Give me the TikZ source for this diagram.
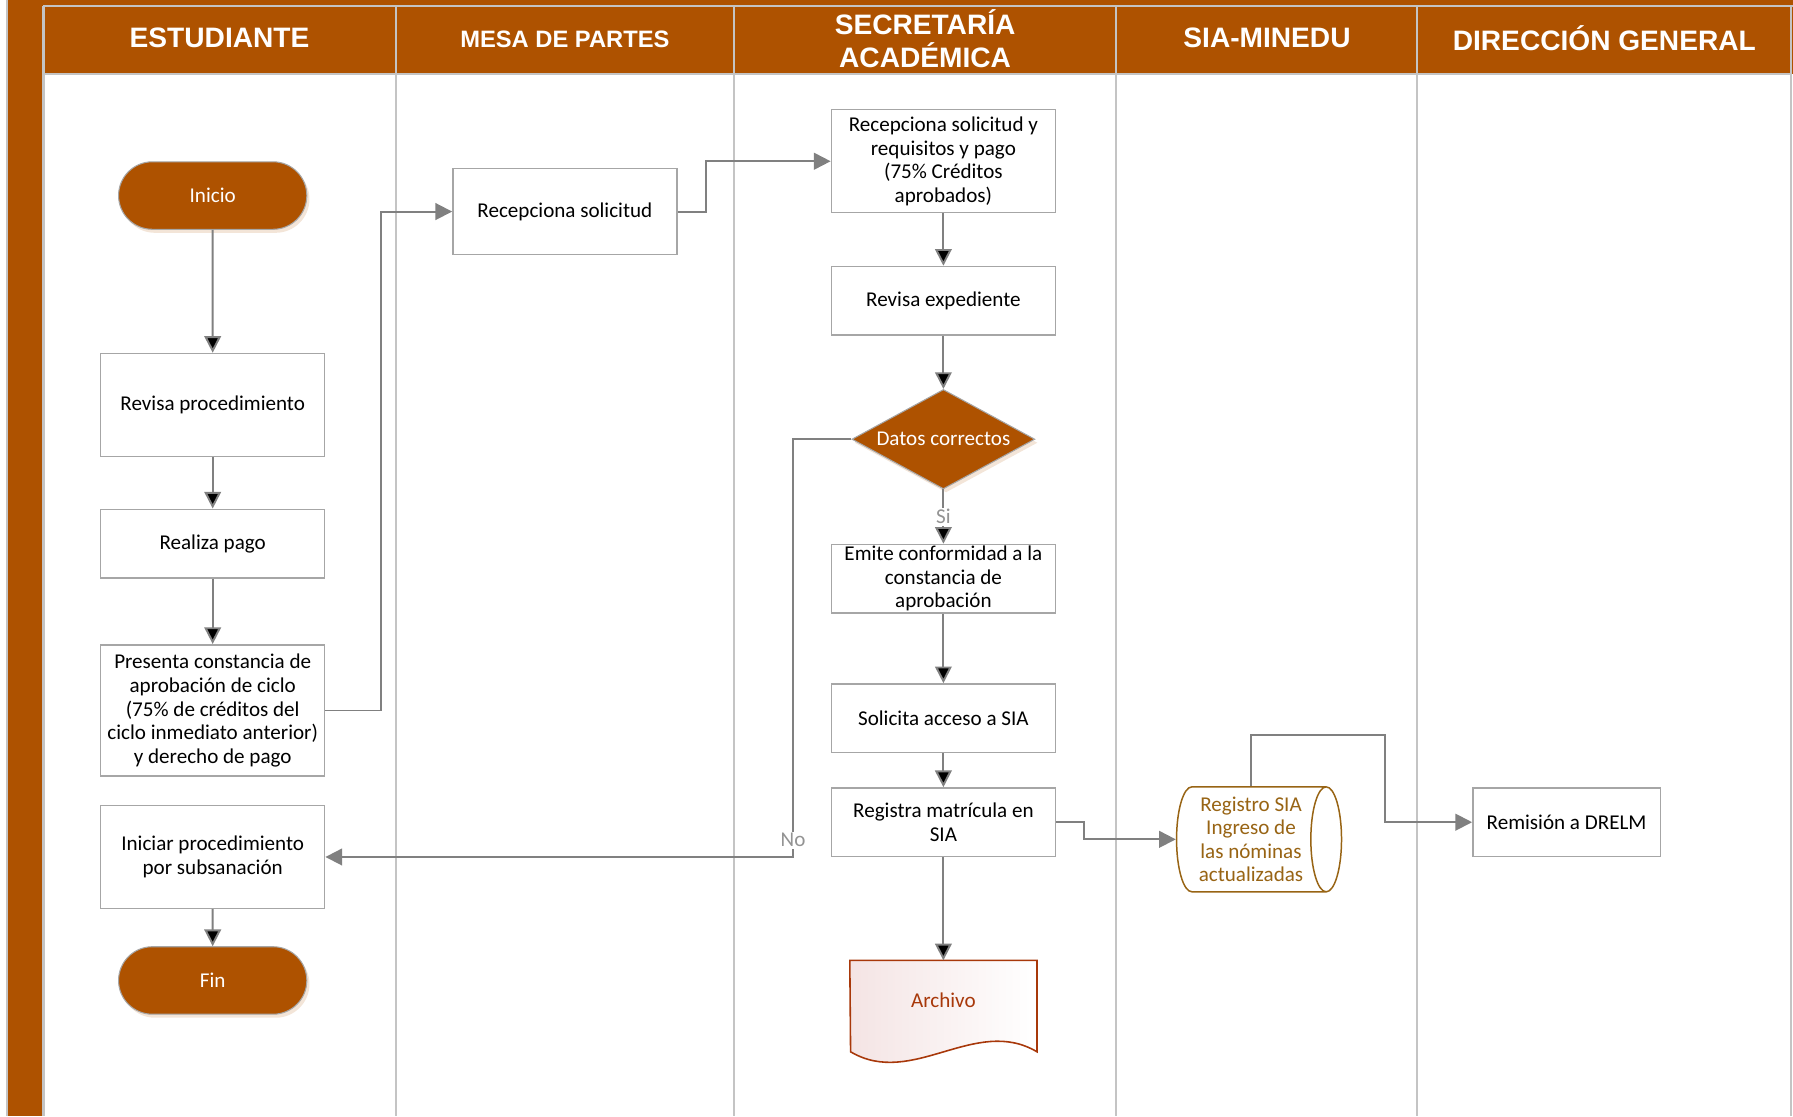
\documentclass[tikz,border=0pt]{standalone}
\usepackage{fontspec}
\setmainfont{Carlito}
\newfontfamily\headfont{Liberation Sans}
\usepackage{tikz}
\usetikzlibrary{positioning,arrows.meta,shapes.geometric,shapes.misc,shadows,backgrounds}

\definecolor{cafe}{RGB}{174,82,0}
\definecolor{linea}{RGB}{128,128,128}
\definecolor{borde}{RGB}{166,166,166}
\definecolor{carril}{RGB}{196,196,196}
\definecolor{dorado}{RGB}{152,100,20}
\definecolor{rojizo}{RGB}{168,56,10}
\definecolor{rosado}{RGB}{244,228,228}

\begin{document}
\begin{tikzpicture}[x=0.02287cm, y=-0.02287cm, on grid,
    font=\fontsize{12}{13.4}\selectfont,
    proc/.style={draw=borde, line width=0.85pt, fill=white, align=center,
        minimum width=4.48cm, minimum height=1.37cm, inner sep=1pt},
    term/.style={rounded rectangle, draw=borde, line width=0.6pt, fill=cafe, text=white,
        minimum width=4cm, minimum height=1.35cm,
        drop shadow={shadow xshift=1.5pt, shadow yshift=-2pt, fill=cafe!30, opacity=0.5}},
    decision/.style={diamond, draw=borde, line width=0.6pt, fill=cafe, text=white, aspect=1.8,
        minimum width=3.66cm, minimum height=1.99cm, inner sep=0pt,
        drop shadow={shadow xshift=1.5pt, shadow yshift=-2pt, fill=cafe!30, opacity=0.5}},
    store/.style={cylinder, shape aspect=0.36, draw=dorado, line width=0.85pt, fill=white,
        text=dorado, align=center, minimum width=2.1cm, minimum height=3.3cm, inner sep=0pt},
    docnode/.style={minimum width=3.73cm, minimum height=1.6cm, inner sep=0pt, text=rojizo},
    docline/.style={draw=rojizo, line width=0.9pt, left color=rosado, right color=white},
    flow/.style={draw=linea, line width=1.1pt, -{Triangle[length=9.5pt, width=9.5pt]}},
    lbl/.style={fill=white, text=linea!85, inner sep=1pt},
    lane/.style={draw=carril, line width=1.2pt},
    head/.style={text=white, align=center, font=\headfont\bfseries\fontsize{16}{18.8}\selectfont}]

    \useasboundingbox (0,0) rectangle (1568,976);

    \fill[cafe] (6,0) rectangle (1568,4);
    \fill[cafe] (6,0) rectangle (38,976);
    \fill[cafe] (38,6) rectangle (1568,65);
    \draw[lane] (6,0) -- (6,976) (38,5) -- (1568,5) (38,65) -- (1566,65);
    \draw[lane] (38,5) -- (38,976) (346,5) -- (346,976) (642,5) -- (642,976)
        (976,5) -- (976,976) (1239,5) -- (1239,976) (1566,5) -- (1566,976);

    \node[head] (hest) at (192,33) {ESTUDIANTE};
    \node[head, font=\headfont\bfseries\fontsize{13.5}{16}\selectfont] (hmesa) at (494,34) {MESA DE PARTES};
    \node[head] (hsec) at (809,34) {SECRETARÍA\\ ACADÉMICA};
    \node[head] (hsia) at (1108,33) {SIA-MINEDU};
    \node[head] (hdir) at (1403,33) {DIRECCIÓN GENERAL};

    \node[term] (inicio) at (186,171) {Inicio};
    \node[proc, minimum height=2.06cm] (revproc) [below=4.19cm of inicio] {Revisa procedimiento};
    \node[proc] (pago) [below=2.77cm of revproc] {Realiza pago};
    \node[proc, minimum height=2.63cm] (presenta) [below=3.34cm of pago] {Presenta constancia de\\ aprobación de ciclo\\ (75\% de créditos del\\ ciclo inmediato anterior)\\ y derecho de pago};
    \node[proc, minimum height=2.06cm] (subsana) [below=2.93cm of presenta] {Iniciar procedimiento\\ por subsanación};
    \node[term] (fin) [below=2.47cm of subsana] {Fin};

    \node[proc, minimum height=1.72cm] (recsol) at (494,185) {Recepciona solicitud};

    \node[proc, minimum height=2.06cm] (recreq) at (825,141) {Recepciona solicitud y\\ requisitos y pago\\ (75\% Créditos\\ aprobados)};
    \node[proc] (revexp) [below=2.79cm of recreq] {Revisa expediente};
    \node[decision] (datos) [below=2.77cm of revexp] {Datos correctos};
    \node[proc, inner sep=0pt] (emite) [below=2.79cm of datos] {Emite conformidad a la\\ constancia de\\ aprobación};
    \node[proc] (solicita) [below=2.79cm of emite] {Solicita acceso a SIA};
    \node[proc] (registra) [below=2.08cm of solicita] {Registra matrícula en\\ SIA};
    \node[docnode] (archivo) [below=3.57cm of registra] {Archivo};

    \node[store] (registro) at (1094,734) {Registro SIA\\ Ingreso de\\ las nóminas\\ actualizadas};
    \node[proc, minimum width=3.75cm] (remision) at (1370,719) {Remisión a DRELM};

    \begin{scope}[on background layer]
        \draw[docline] (archivo.north west) -- (archivo.north east) -- ++(0,80)
            .. controls +(-54,-32) and +(54,32) .. ++(-163,0) -- cycle;
    \end{scope}

    \path[flow]
        (inicio) edge (revproc)
        (revproc) edge (pago)
        (pago) edge (presenta)
        (subsana) edge (fin)
        (recreq) edge (revexp)
        (revexp) edge (datos)
        (datos) edge node[lbl] {Si} (emite)
        (emite) edge (solicita)
        (solicita) edge (registra)
        (registra) edge (archivo);

    \draw[flow] (presenta.east) -- ++(49,0) |- (recsol);
    \draw[flow] (recsol.east) -- ++(25,0) |- (recreq);
    \draw[flow] (datos.west) -- ++(-51,0) |- node[lbl, pos=0.48] {No} (subsana);
    \draw[flow] (registra.east) -- ++(24,0) |- (registro);
    \draw[flow] (registro.north) |- ++(117,-45) |- (remision);

\end{tikzpicture}
\end{document}
